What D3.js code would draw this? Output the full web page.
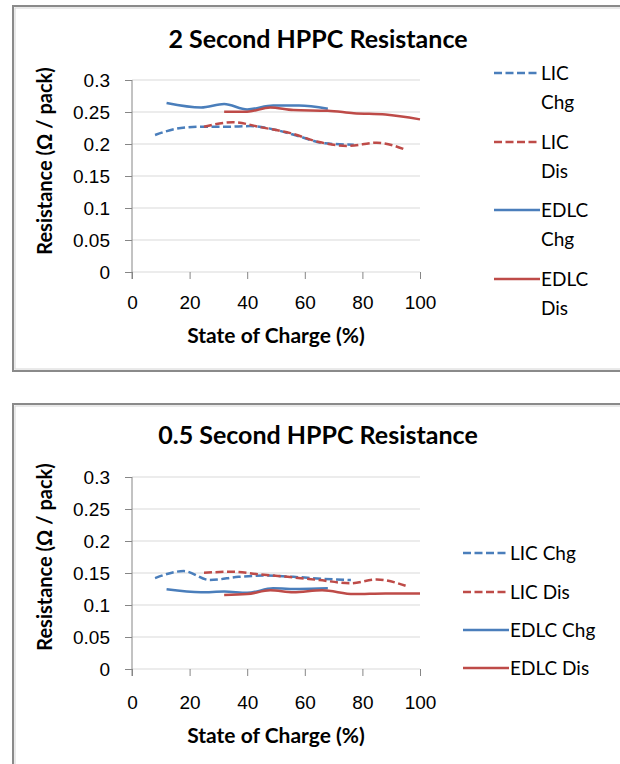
<!DOCTYPE html>
<html lang="en">
<head>
<meta charset="UTF-8">
<title>HPPC Resistance</title>
<script src="https://cdnjs.cloudflare.com/ajax/libs/d3/7.8.5/d3.min.js"></script>
<style>
  body { margin: 0; background: #fff; }
  svg { font-family: Lato, "Open Sans", sans-serif; }
  .grid line { stroke: #d9d9d9; }
  .axis path, .axis line { stroke: #868686; }
  .axis text { fill: #000; font-size: 19px; }
</style>
</head>
<body>
<div id="viz"></div>
<script>
// categories / ticks
var seriesNames = ["LIC Chg", "LIC Dis", "EDLC Chg", "EDLC Dis"];
var xTicks = [0, 20, 40, 60, 80, 100];
var yTicks = [0, 0.05, 0.1, 0.15, 0.2, 0.25, 0.3];

// 2 second pulse
var s2LicChgSoc = [8, 17, 25, 33, 41, 50, 58, 67, 77];
var s2LicChgRes = [0.214, 0.225, 0.227, 0.227, 0.228, 0.222, 0.212, 0.201, 0.199];
var s2LicDisSoc = [25, 35, 45, 55, 65, 75, 85, 95];
var s2LicDisRes = [0.227, 0.234, 0.226, 0.217, 0.203, 0.197, 0.202, 0.191];
var s2EdlcChgSoc = [12, 24, 32, 40, 49, 58, 68];
var s2EdlcChgRes = [0.264, 0.257, 0.2625, 0.254, 0.26, 0.26, 0.255];
var s2EdlcDisSoc = [32, 40, 48, 56, 68, 77, 88, 100];
var s2EdlcDisRes = [0.2505, 0.2505, 0.257, 0.253, 0.252, 0.248, 0.246, 0.2385];

// 0.5 second pulse
var s05LicChgSoc = [8, 18, 27, 37, 46, 56, 66, 76];
var s05LicChgRes = [0.142, 0.153, 0.139, 0.144, 0.146, 0.144, 0.141, 0.139];
var s05LicDisSoc = [25, 35, 44, 54, 65, 76, 85, 95];
var s05LicDisRes = [0.1505, 0.152, 0.148, 0.144, 0.139, 0.134, 0.14, 0.13];
var s05EdlcChgSoc = [12, 24, 32, 40, 49, 58, 68];
var s05EdlcChgRes = [0.1245, 0.12, 0.121, 0.119, 0.126, 0.125, 0.126];
var s05EdlcDisSoc = [32, 40, 48, 56, 66, 77, 88, 100];
var s05EdlcDisRes = [0.1156, 0.117, 0.123, 0.12, 0.123, 0.117, 0.118, 0.118];

var blue = "#4a7ebb", red = "#be4b48";
var styles = [
  { color: blue, dash: "8,3.5" },
  { color: red, dash: "8,3.5" },
  { color: blue, dash: null },
  { color: red, dash: null }
];

var svg = d3.select("#viz").append("svg")
  .attr("width", 620).attr("height", 764);

function zipSeries(soc, res) {
  return soc.map(function (s, i) { return { x: s, y: res[i] }; });
}

function drawChart(opt) {
  var g = svg.append("g");

  // chart frame
  g.append("rect")
    .attr("x", 13).attr("y", opt.frameTop)
    .attr("width", 640).attr("height", opt.frameH)
    .attr("fill", "#fff").attr("stroke", "#8a8a8a").attr("stroke-width", 2);
  g.append("rect")
    .attr("x", 15).attr("y", opt.frameTop + 2)
    .attr("width", 640).attr("height", opt.frameH - 4)
    .attr("fill", "none").attr("stroke", "#d4d4d4").attr("stroke-width", 1);

  var x = d3.scaleLinear().domain([0, 100]).range([132, 420]);
  var y = d3.scaleLinear().domain([0, 0.3]).range([opt.plotBottom, opt.plotBottom - 192]);

  g.append("g").attr("class", "grid")
    .selectAll("line").data(yTicks).enter().append("line")
    .attr("x1", x(0)).attr("x2", x(100))
    .attr("y1", function (d) { return y(d); })
    .attr("y2", function (d) { return y(d); });

  var yAxis = g.append("g").attr("class", "axis")
    .attr("transform", "translate(" + x(0) + ",0)")
    .call(d3.axisLeft(y).tickValues(yTicks).tickSize(7).tickPadding(15)
      .tickFormat(function (d) { return String(+d.toFixed(2)); }));
  yAxis.select(".domain").attr("d", "M0," + y(0.3) + "V" + (y(0) + 7));

  var xAxis = g.append("g").attr("class", "axis")
    .attr("transform", "translate(0," + y(0) + ")")
    .call(d3.axisBottom(x).tickValues(xTicks).tickSize(7).tickPadding(opt.xPad)
      .tickFormat(d3.format("d")));
  xAxis.select(".domain").remove();

  var line = d3.line()
    .x(function (d) { return x(d.x); })
    .y(function (d) { return y(d.y); })
    .curve(d3.curveMonotoneX);

  opt.series.forEach(function (s, i) {
    g.append("path")
      .datum(s)
      .attr("fill", "none")
      .attr("stroke", styles[i].color)
      .attr("stroke-width", 2.5)
      .attr("stroke-dasharray", styles[i].dash)
      .attr("d", line);
  });

  g.append("text")
    .attr("x", 318).attr("y", opt.titleY)
    .attr("text-anchor", "middle")
    .attr("font-size", 25).attr("font-weight", "bold")
    .text(opt.title);

  g.append("text")
    .attr("x", 276).attr("y", opt.xTitleY)
    .attr("text-anchor", "middle")
    .attr("font-size", 21).attr("font-weight", "bold")
    .text("State of Charge (%)");

  g.append("text")
    .attr("transform", "translate(52," + opt.yTitleC + ") rotate(-90)")
    .attr("text-anchor", "middle")
    .attr("font-size", 20).attr("font-weight", "bold")
    .text("Resistance (\u03A9 / pack)");

  // legend
  var lg = g.append("g").attr("font-size", 19);
  seriesNames.forEach(function (name, i) {
    var ly = opt.legendY[i];
    lg.append("line")
      .attr("x1", opt.legendX).attr("x2", opt.legendX + 46)
      .attr("y1", ly).attr("y2", ly)
      .attr("stroke", styles[i].color).attr("stroke-width", 2.5)
      .attr("stroke-dasharray", styles[i].dash);
    var words = opt.wrap ? name.split(" ") : [name];
    words.forEach(function (w, j) {
      lg.append("text")
        .attr("x", opt.legendX + 47).attr("y", ly + 7 + j * 29)
        .text(w);
    });
  });
}

drawChart({
  frameTop: 6, frameH: 365, plotBottom: 272, xPad: 17,
  title: "2 Second HPPC Resistance", titleY: 48, xTitleY: 343, yTitleC: 161,
  legendX: 494, legendY: [73, 142, 210, 279], wrap: true,
  series: [zipSeries(s2LicChgSoc, s2LicChgRes), zipSeries(s2LicDisSoc, s2LicDisRes),
           zipSeries(s2EdlcChgSoc, s2EdlcChgRes), zipSeries(s2EdlcDisSoc, s2EdlcDisRes)]
});

drawChart({
  frameTop: 404, frameH: 400, plotBottom: 669, xPad: 20,
  title: "0.5 Second HPPC Resistance", titleY: 444, xTitleY: 743, yTitleC: 557,
  legendX: 463, legendY: [553, 592, 630, 668], wrap: false,
  series: [zipSeries(s05LicChgSoc, s05LicChgRes), zipSeries(s05LicDisSoc, s05LicDisRes),
           zipSeries(s05EdlcChgSoc, s05EdlcChgRes), zipSeries(s05EdlcDisSoc, s05EdlcDisRes)]
});
</script>
</body>
</html>
